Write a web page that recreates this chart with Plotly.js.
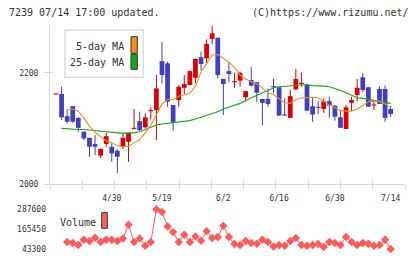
<!DOCTYPE html>
<html><head><meta charset="utf-8">
<script src="https://cdn.plot.ly/plotly-3.0.1.min.js"></script>
<style>html,body{margin:0;padding:0;background:#fff}</style>
</head><body><div id="chart" style="width:420px;height:259px"></div>
<script>
// ---- data ----
const tickLabels = ['4/30','5/19','6/2','6/16','6/30','7/14'];
const tickIdx    = [10, 19, 30, 40, 50, 60];
const priceTicks = [2000, 2200];
const volTicks   = [43300, 165450, 287600];

const openV  = [2161,2162,2122,2140,2119,2094,2083,2072,2051,2072,2067,2060,2067,2076,2099,2113,2102,2131,2133,2221,2217,2142,2151,2173,2178,2191,2228,2226,2261,2263,2189,2203,2183,2186,2156,2187,2183,2153,2153,2176,2174,2125,2119,2170,2180,2178,2140,2138,2135,2149,2141,2120,2099,2146,2160,2192,2174,2141,2171,2171,2135];
const highV  = [2162,2175,2134,2140,2120,2095,2083,2088,2064,2092,2073,2062,2092,2092,2135,2130,2127,2138,2196,2255,2220,2142,2178,2196,2204,2226,2238,2260,2284,2263,2189,2218,2200,2202,2167,2211,2183,2153,2172,2189,2174,2154,2169,2207,2201,2179,2156,2149,2154,2157,2142,2132,2142,2157,2189,2199,2174,2150,2175,2177,2140];
const lowV   = [2161,2115,2109,2110,2093,2079,2049,2052,2047,2066,2040,2020,2063,2040,2099,2095,2100,2116,2079,2181,2139,2096,2139,2162,2177,2181,2204,2215,2251,2190,2124,2183,2173,2175,2148,2175,2148,2106,2139,2164,2123,2122,2119,2169,2175,2131,2112,2126,2128,2119,2114,2101,2099,2131,2149,2166,2139,2133,2144,2112,2121];
const closeV = [2162,2120,2112,2112,2101,2082,2067,2067,2063,2086,2055,2049,2083,2092,2100,2097,2120,2132,2172,2196,2148,2110,2175,2180,2203,2225,2216,2252,2271,2196,2180,2198,2185,2200,2167,2177,2164,2146,2144,2174,2123,2123,2158,2189,2181,2132,2125,2137,2149,2141,2121,2101,2138,2151,2173,2169,2139,2142,2144,2119,2126];
const ma5    = [null,null,2133,2135,2131,2119,2104,2093,2085,2078,2074,2069,2067,2068,2074,2080,2092,2106,2124,2144,2152,2152,2158,2161,2163,2176,2201,2217,2232,2233,2226,2219,2210,2196,2189,2185,2180,2173,2164,2161,2153,2146,2145,2152,2155,2156,2156,2155,2148,2142,2137,2132,2131,2131,2135,2142,2148,2149,2149,2144,2137];
const ma25   = [null,2100,2099,2098,2098,2098,2097,2096,2095,2094,2093,2092,2091,2092,2092,2094,2098,2102,2106,2108,2109,2110,2111,2113,2114,2117,2120,2123,2127,2130,2135,2138,2142,2145,2150,2155,2160,2164,2168,2173,2175,2176,2177,2178,2179,2179,2177,2177,2176,2175,2172,2168,2164,2159,2155,2154,2152,2150,2148,2147,2145];
const volume = [null,null,86000,79900,67700,100100,92200,112300,86000,100100,100100,92200,108000,191700,86000,108000,63500,86000,287600,271100,181300,147100,86000,130600,86000,120200,94000,153200,110500,116600,185600,116600,73800,67700,92200,79900,75700,100100,86000,59200,67700,63500,92200,110500,67700,63500,67700,73800,55500,86000,79900,67700,116600,86000,67700,79900,75700,63500,67700,100100,43300];

// ---- build ----
const N = openV.length;
const idx = openV.map((_, i) => i);
const RED = '#dc0000', BLUE = '#4040c0', ORANGE = '#f0901c', GREEN = '#18a818', VOLC = '#ff5a5a';
const GRAY = '#d6d6d6', TXT = '#333333', MONO = 'DejaVu Sans Mono, monospace';
const up = idx.map(i => closeV[i] >= openV[i]);
const bodyBase = idx.map(i => Math.min(openV[i], closeV[i]));
const bodyH = idx.map(i => Math.max(Math.abs(closeV[i] - openV[i]), 2));
function wick(isUp) {
  const x = [], y = [];
  idx.forEach(i => { if (up[i] === isUp) { x.push(i, i, null); y.push(lowV[i], highV[i], null); } });
  return {x, y};
}
const wr = wick(true), wb = wick(false);
const xr = [-1.076, 62.57];

const traces = [
  {type:'scatter', mode:'lines', x:wr.x, y:wr.y, line:{color:RED, width:1}, hoverinfo:'skip', xaxis:'x', yaxis:'y'},
  {type:'scatter', mode:'lines', x:wb.x, y:wb.y, line:{color:BLUE, width:1}, hoverinfo:'skip', xaxis:'x', yaxis:'y'},
  {type:'bar', x:idx, base:bodyBase, y:bodyH, width:0.85, marker:{color:idx.map(i => up[i] ? RED : BLUE), line:{width:0}}, xaxis:'x', yaxis:'y'},
  {type:'scatter', mode:'lines', x:idx, y:ma25, line:{color:GREEN, width:1.1}, xaxis:'x', yaxis:'y'},
  {type:'scatter', mode:'lines', x:idx, y:ma5, line:{color:ORANGE, width:1.1}, xaxis:'x', yaxis:'y'},
  {type:'scatter', mode:'lines+markers', x:idx, y:volume, line:{color:VOLC, width:1}, marker:{symbol:'diamond', size:6.5, color:VOLC}, xaxis:'x4', yaxis:'y2'},
  {type:'scatter', mode:'markers', x:[0], y:[2000], marker:{opacity:0}, hoverinfo:'skip', xaxis:'x2', yaxis:'y'},
  {type:'scatter', mode:'markers', x:[0], y:[2000], marker:{opacity:0}, hoverinfo:'skip', xaxis:'x3', yaxis:'y'},
  {type:'scatter', mode:'markers', x:[0], y:[2000], marker:{opacity:0}, hoverinfo:'skip', xaxis:'x', yaxis:'y3'}
];

const px = v => (v - 50) / 355;      // pixel x -> paper
const py = v => (255 - v) / 230;     // pixel y -> paper
const gridTicks = Array.from({length: 12}, (_, k) => k);

const layout = {
  width: 420, height: 259,
  margin: {l: 50, r: 15, t: 25, b: 4},
  paper_bgcolor: '#fff', plot_bgcolor: '#fff',
  showlegend: false, barmode: 'overlay',
  font: {family: MONO, size: 8, color: TXT},
  xaxis: {range: xr, anchor: 'y', tickvals: tickIdx, ticktext: tickLabels, ticks: '', showline: true, linecolor: GRAY, linewidth: 1,
          showgrid: false, zeroline: false, tickfont: {family: MONO, size: 8, color: TXT}, ticklabelstandoff: 6},
  xaxis2: {range: [0, 11], overlaying: 'x', anchor: 'y', tickvals: gridTicks, ticks: 'outside', ticklen: 4, tickcolor: GRAY,
           showticklabels: false, showline: false, showgrid: false, zeroline: false},
  xaxis3: {range: [0, 11], overlaying: 'x', anchor: 'y', tickvals: gridTicks, ticks: 'inside', ticklen: 3, tickcolor: GRAY,
           showticklabels: false, showline: false, showgrid: false, zeroline: false},
  xaxis4: {range: xr, anchor: 'y2', visible: false},
  yaxis: {domain: [py(184), 1], range: [2000, 2286], tickvals: priceTicks, ticks: 'outside', ticklen: 5, tickcolor: GRAY,
          showline: true, linecolor: GRAY, linewidth: 1, showgrid: false, zeroline: false,
          tickfont: {family: MONO, size: 8, color: TXT}, ticklabelstandoff: 4},
  yaxis3: {range: [2000, 2286], overlaying: 'y', side: 'left', tickvals: priceTicks, ticks: 'inside', ticklen: 3, tickcolor: GRAY,
           showticklabels: false, showline: false, showgrid: false, zeroline: false},
  yaxis2: {domain: [0, py(203)], range: [6400, 326200], tickvals: volTicks, ticktext: volTicks.map(String), ticks: '',
           showline: false, showgrid: false, zeroline: false, tickfont: {family: MONO, size: 8, color: TXT}, ticklabelstandoff: 3},
  shapes: [
    {type:'rect', xref:'paper', yref:'paper', x0:px(65), x1:px(143.3), y0:py(77.3), y1:py(30), line:{color:'#dddddd', width:1.5}, fillcolor:'#fff', layer:'above'},
    {type:'rect', xref:'paper', yref:'paper', x0:px(131), x1:px(137.3), y0:py(53.3), y1:py(36.7), line:{color:'#333', width:1}, fillcolor:ORANGE, layer:'above'},
    {type:'rect', xref:'paper', yref:'paper', x0:px(131), x1:px(137.3), y0:py(69.3), y1:py(54.3), line:{color:'#333', width:1}, fillcolor:GREEN, layer:'above'},
    {type:'rect', xref:'paper', yref:'paper', x0:px(101.7), x1:px(107.3), y0:py(228.3), y1:py(212.7), line:{color:'#333', width:1}, fillcolor:'#ff6060', layer:'above'}
  ],
  annotations: [
    {text:'7239 07/14 17:00 updated.', xref:'paper', yref:'paper', x:px(7), y:py(12), xanchor:'left', yanchor:'middle', showarrow:false, font:{family:MONO, size:10, color:TXT}},
    {text:'(C)https://www.rizumu.net/', xref:'paper', yref:'paper', x:px(411), y:py(12), xanchor:'right', yanchor:'middle', showarrow:false, font:{family:MONO, size:10, color:TXT}},
    {text:'5-day MA', xref:'paper', yref:'paper', x:px(126), y:py(46), xanchor:'right', yanchor:'middle', showarrow:false, font:{family:MONO, size:10, color:TXT}},
    {text:'25-day MA', xref:'paper', yref:'paper', x:px(126), y:py(62.5), xanchor:'right', yanchor:'middle', showarrow:false, font:{family:MONO, size:10, color:TXT}},
    {text:'Volume', xref:'paper', yref:'paper', x:px(58), y:py(222.5), xanchor:'left', yanchor:'middle', showarrow:false, font:{family:MONO, size:10, color:TXT}}
  ]
};

Plotly.newPlot('chart', traces, layout, {staticPlot: true, displayModeBar: false});
</script></body></html>
